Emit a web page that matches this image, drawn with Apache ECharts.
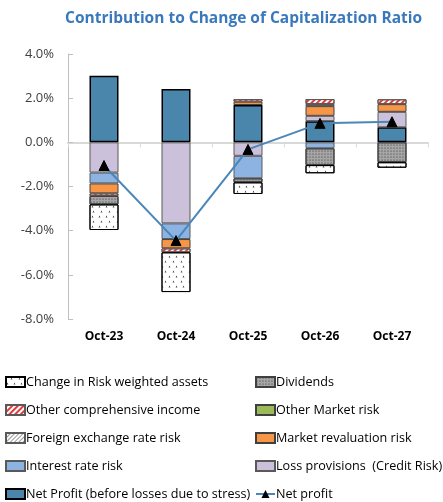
<!DOCTYPE html>
<html>
<head>
<meta charset="utf-8">
<script src="https://cdn.jsdelivr.net/npm/echarts@6/dist/echarts.min.js"></script>
<style>
  html, body { margin: 0; padding: 0; background: #fff; }
  #echBox { width: 443px; height: 502px; }
</style>
</head>
<body>
<div id="echBox"></div>
<script>
var categories = ['Oct-23', 'Oct-24', 'Oct-25', 'Oct-26', 'Oct-27']
// stacked from zero outward (first = closest to the axis)
var netProfitBefore = [3.01, 2.41, 1.69, 0.96, 0.68]
var lossProvisions = [-1.37, -3.67, -0.61, 0.24, 0.70]
var interestRate = [-0.49, -0.71, -1.02, -0.27, 0]
var marketReval = [-0.45, -0.42, 0.15, 0.44, 0.35]
var fxRisk = [0, 0, 0, 0.09, 0]
var otherMarket = [0, 0, 0, 0, 0]
var oci = [-0.12, -0.18, 0.12, 0.23, 0.22]
var dividends = [-0.38, 0, -0.18, -0.76, -0.90]
var rwa = [-1.16, -1.80, -0.53, -0.37, -0.25]
var netProfit = [-1.05, -4.45, -0.32, 0.86, 0.93]

var myChart = echarts.init(document.getElementById('echBox'))

function clean (arr) {
  return arr.map(function (v) { return v === 0 ? '-' : v })
}

function bar (name, data, style) {
  return {
    name: name,
    type: 'bar',
    stack: 'all',
    barWidth: 29,
    data: clean(data),
    itemStyle: Object.assign({ borderColor: '#404040', borderWidth: 1 }, style)
  }
}

function rectItems (names) {
  return names.map(function (n) {
    return n === 'Net profit' ? { name: n } : { name: n, icon: 'rect' }
  })
}

var font = '"Open Sans", "Noto Sans", sans-serif'
var legendText = { fontFamily: font, fontSize: 12.6, color: '#000', lineHeight: 16, padding: [0, 0, 0, -4] }

var option = {
  backgroundColor: '#fff',
  animation: false,
  title: {
    text: 'Contribution to Change of Capitalization Ratio',
    left: 60,
    top: 6,
    textStyle: { fontFamily: font, fontSize: 15.5, fontWeight: 'bold', color: '#3a78bd' }
  },
  grid: { left: 68, right: 15, top: 54, bottom: 183 },
  legend: [
    {
      orient: 'vertical', left: 5, top: 374, padding: 0, itemGap: 12, itemWidth: 19, itemHeight: 10,
      textStyle: legendText,
      data: rectItems(['Change in Risk weighted assets', 'Other comprehensive income', 'Foreign exchange rate risk', 'Interest rate risk', 'Net Profit (before losses due to stress)'])
    },
    {
      orient: 'vertical', left: 255, top: 374, padding: 0, itemGap: 12, itemWidth: 19, itemHeight: 10,
      textStyle: legendText,
      data: rectItems(['Dividends', 'Other Market risk', 'Market revaluation risk', 'Loss provisions  (Credit Risk)', 'Net profit'])
    }
  ],
  xAxis: [
    {
      type: 'category',
      data: categories,
      position: 'bottom',
      axisLine: { show: false, onZero: false },
      axisTick: { show: false },
      axisLabel: { fontFamily: font, fontSize: 12, fontWeight: 'bold', color: '#000', margin: 12 }
    },
    {
      type: 'category',
      data: categories,
      axisLine: { onZero: true, onZeroAxisIndex: 0, lineStyle: { color: '#d9d9d9', width: 2 } },
      axisTick: { show: true, inside: true, length: 5, lineStyle: { color: '#d9d9d9' } },
      axisLabel: { show: false }
    }
  ],
  yAxis: {
    type: 'value',
    min: -8,
    max: 4,
    interval: 2,
    axisLine: { show: true, lineStyle: { color: '#bfbfbf' } },
    axisTick: { show: true, inside: true, length: 5, lineStyle: { color: '#bfbfbf' } },
    splitLine: { show: false },
    axisLabel: {
      fontFamily: font, fontSize: 13, color: '#404040', margin: 14,
      formatter: function (v) { return v.toFixed(1) + '%' }
    }
  },
  series: [
    bar('Net Profit (before losses due to stress)', netProfitBefore, { color: '#4a86ab', borderColor: '#000', borderWidth: 1.5 }),
    bar('Loss provisions  (Credit Risk)', lossProvisions, { color: '#ccc1da', borderColor: '#595959' }),
    bar('Interest rate risk', interestRate, { color: '#8db3e2', borderColor: '#595959' }),
    bar('Market revaluation risk', marketReval, {
      color: '#f79646', borderColor: '#404040'
    }),
    bar('Foreign exchange rate risk', fxRisk, {
      color: '#fff', borderColor: '#595959',
      decal: { symbol: 'rect', color: '#999', dashArrayX: [1, 0], dashArrayY: [1, 2], rotation: -Math.PI / 4 }
    }),
    bar('Other Market risk', otherMarket, { color: '#9bbb59', borderColor: '#404040' }),
    bar('Other comprehensive income', oci, {
      color: '#fff', borderColor: '#595959',
      decal: { symbol: 'rect', color: '#e03c3c', dashArrayX: [1, 0], dashArrayY: [2, 2], rotation: -Math.PI / 4 }
    }),
    bar('Dividends', dividends, {
      color: '#a6a6a6', borderColor: '#404040',
      decal: { symbol: 'circle', symbolSize: 0.6, color: '#333', dashArrayX: [2, 1], dashArrayY: [2, 1] }
    }),
    bar('Change in Risk weighted assets', rwa, {
      color: '#fff', borderColor: '#000',
      decal: { symbol: 'triangle', symbolSize: 0.6, color: '#444', dashArrayX: [[3, 4], [0, 3.5, 3, 0.5]], dashArrayY: [3, 2] }
    }),
    {
      name: 'Net profit',
      type: 'line',
      data: netProfit,
      z: 5,
      symbol: 'triangle',
      symbolSize: 10,
      lineStyle: { color: '#4a86b8', width: 2 },
      itemStyle: { color: '#000', borderColor: '#000' }
    }
  ]
}

myChart.setOption(option)
</script>
</body>
</html>
